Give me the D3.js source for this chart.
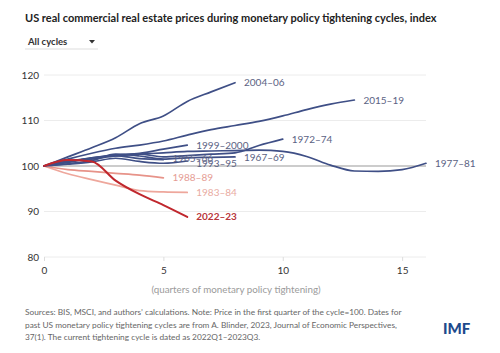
<!DOCTYPE html>
<html>
<head>
<meta charset="utf-8">
<script src="https://cdn.jsdelivr.net/npm/d3@7"></script>
<style>
  body { margin: 0; background: #fff; }
  svg { display: block; font-family: Lato, 'Open Sans', sans-serif; }
</style>
</head>
<body>
<div id="chart"></div>
<script>
const cycles = ['1965–66', '1967–69', '1972–74', '1977–81', '1983–84', '1988–89', '1993–95', '1999–2000', '2004–06', '2015–19', '2022–23']

const v1965 = [100, 100.8, 101.8, 102.3, 101.6, 101.4]
const v1967 = [100, 100.5, 101.2, 102.6, 102.2, 101.5, 101.8, 101.9, 102.0]
const v1972 = [100, 101.0, 101.5, 102.2, 102.6, 102.0, 102.3, 102.6, 102.9, 104.5, 105.9]
const v1977 = [100, 101.0, 101.8, 102.3, 102.6, 102.9, 103.2, 103.3, 103.4, 103.5, 103.2, 102.1, 100.2, 98.9, 98.8, 99.2, 100.6]
const v1983 = [100, 98.3, 97.0, 95.8, 94.6, 94.3, 94.2]
const v1988 = [100, 99.2, 98.8, 98.4, 98.0, 97.4]
const v1993 = [100, 100.4, 100.9, 101.7, 101.0, 100.6, 101.1]
const v1999 = [100, 101.0, 101.7, 102.4, 102.8, 103.7, 104.6]
const v2004 = [100, 102.0, 104.0, 106.2, 109.3, 111.0, 114.2, 116.3, 118.3]
const v2015 = [100, 101.5, 102.8, 103.9, 104.6, 105.5, 106.8, 108.0, 108.9, 109.8, 111.0, 112.4, 113.6, 114.5]
const v2022 = [100, 101.3, 101.0, 96.8, 93.8, 91.4, 88.8]

const seriesValues = [v1965, v1967, v1972, v1977, v1983, v1988, v1993, v1999, v2004, v2015, v2022]

const yTicks = [80, 90, 100, 110, 120]
const xTicks = [0, 5, 10, 15]

const BLUE = '#3f4f86'
const colors = {
  '1983–84': '#eea79c',
  '1988–89': '#e79389',
  '2022–23': '#c0272d'
}
const labelColors = {
  '1983–84': '#e9aba2',
  '1988–89': '#e59c94',
  '2022–23': '#b8353a'
}
// small vertical nudges so labels sit like the original
const labelNudge = { '1965–66': -1, '1993–95': 3, '1967–69': 1 }

const dimensions = {
  width: 500,
  height: 353,
  margin: { top: 75, right: 74, bottom: 96, left: 44 }
}

const svg = d3.select('#chart').append('svg')
  .attr('width', dimensions.width)
  .attr('height', dimensions.height)

const xScale = d3.scaleLinear()
  .domain([0, 16])
  .range([dimensions.margin.left, dimensions.width - dimensions.margin.right])
const yScale = d3.scaleLinear()
  .domain([80, 120])
  .range([dimensions.height - dimensions.margin.bottom, dimensions.margin.top])

// title + dropdown
svg.append('text')
  .attr('x', 25).attr('y', 22)
  .attr('font-size', 11).attr('font-weight', 700).attr('fill', '#222')
  .text('US real commercial real estate prices during monetary policy tightening cycles, index')

svg.append('text')
  .attr('x', 28).attr('y', 44.5)
  .attr('font-size', 9.5).attr('font-weight', 700).attr('fill', '#333')
  .text('All cycles')
svg.append('path')
  .attr('d', 'M89,40 L95,40 L92,43.5 Z')
  .attr('fill', '#333')
svg.append('line')
  .attr('x1', 25).attr('x2', 98).attr('y1', 49).attr('y2', 49)
  .attr('stroke', '#ddd').attr('stroke-width', 1)

// gridlines
svg.append('g')
  .selectAll('line')
  .data(yTicks)
  .join('line')
  .attr('x1', xScale(0)).attr('x2', xScale(16))
  .attr('y1', d => yScale(d)).attr('y2', d => yScale(d))
  .attr('stroke', d => d === 100 ? '#9a9a9a' : '#ececec')
  .attr('stroke-width', d => d === 100 ? 1.2 : 1)

// y axis labels
svg.append('g')
  .selectAll('text')
  .data(yTicks)
  .join('text')
  .attr('x', 39).attr('y', d => yScale(d))
  .attr('dy', '0.35em')
  .attr('text-anchor', 'end')
  .attr('font-size', 10).attr('fill', '#333')
  .text(d => d)

// x axis
const xAxis = svg.append('g')
  .attr('transform', `translate(0, ${yScale(80)})`)
  .call(d3.axisBottom(xScale).tickValues(xTicks).tickSize(4).tickPadding(6))
xAxis.select('.domain').remove()
xAxis.selectAll('line').attr('stroke', '#ddd')
xAxis.selectAll('text').attr('font-size', 10).attr('fill', '#333').attr('font-family', 'Lato, sans-serif')

svg.append('text')
  .attr('x', 236).attr('y', 293)
  .attr('text-anchor', 'middle')
  .attr('font-size', 9.8).attr('fill', '#9b9b9b')
  .text('(quarters of monetary policy tightening)')

// lines
const line = d3.line()
  .x((d, i) => xScale(i))
  .y(d => yScale(d))
  .curve(d3.curveMonotoneX)

const series = cycles.map((name, i) => ({ name, values: seriesValues[i] }))
const drawOrder = series.filter(s => s.name !== '2022–23').concat(series.filter(s => s.name === '2022–23'))

const lines = svg.append('g')
lines.selectAll('path')
  .data(drawOrder)
  .join('path')
  .attr('d', d => line(d.values))
  .attr('fill', 'none')
  .attr('stroke', d => colors[d.name] || BLUE)
  .attr('stroke-width', d => d.name === '2022–23' ? 2 : 1.7)
  .attr('stroke-linejoin', 'round')
  .attr('stroke-linecap', 'round')

svg.append('g')
  .selectAll('text')
  .data(series)
  .join('text')
  .attr('x', d => xScale(d.values.length - 1) + 9)
  .attr('y', d => yScale(d.values[d.values.length - 1]) + (labelNudge[d.name] || 0))
  .attr('dy', '0.35em')
  .attr('font-size', 10)
  .attr('font-weight', d => d.name === '2022–23' ? 700 : 400)
  .attr('fill', d => labelColors[d.name] || '#5b6283')
  .text(d => d.name)

// footnote
const notes = [
  'Sources: BIS, MSCI, and authors\u2019 calculations. Note: Price in the first quarter of the cycle=100. Dates for',
  'past US monetary policy tightening cycles are from A. Blinder, 2023, Journal of Economic Perspectives,',
  '37(1). The current tightening cycle is dated as 2022Q1\u20132023Q3.'
]
svg.append('g')
  .selectAll('text')
  .data(notes)
  .join('text')
  .attr('x', 25)
  .attr('y', (d, i) => 315 + i * 12.5)
  .attr('font-size', 8.3).attr('fill', '#666')
  .text(d => d)

svg.append('text')
  .attr('x', 443).attr('y', 334)
  .attr('font-size', 15).attr('font-weight', 900).attr('fill', '#1d4a8c')
  .text('IMF')
</script>
</body>
</html>
